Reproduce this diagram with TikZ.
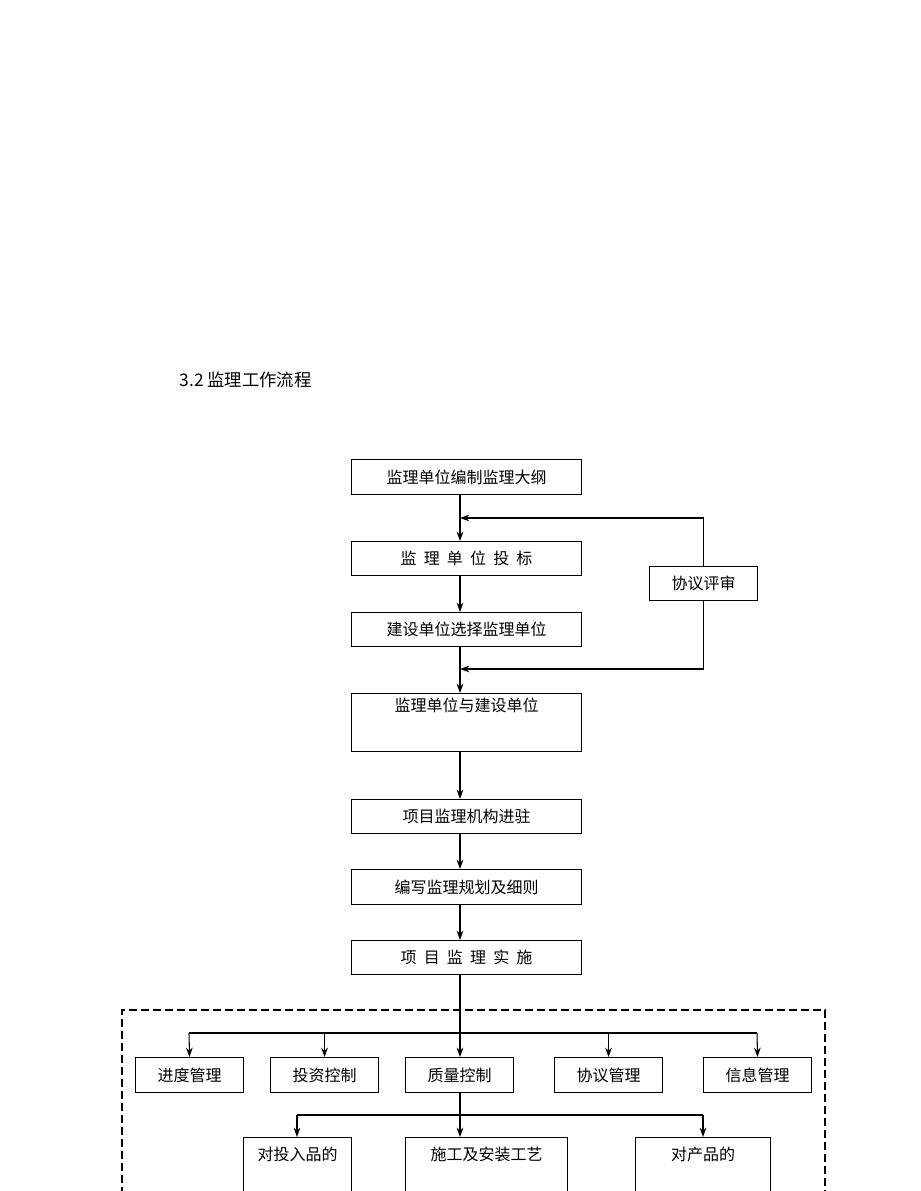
\documentclass[tikz,border=0pt]{standalone}
\usepackage{fontspec}
\setmainfont{Noto Sans CJK SC}
\usetikzlibrary{arrows.meta}
\begin{document}
\begin{tikzpicture}[x=0.75pt,y=-0.75pt,
 box/.style={draw,line width=0.8pt,anchor=north west,inner sep=0pt,font=\fontsize{12}{14}\selectfont},
 arr/.style={-{Stealth[length=7pt,width=5pt]},line width=0.8pt},
 ln/.style={line width=0.8pt}]
\useasboundingbox (0,0) rectangle (920,1191);
\node[anchor=west,font=\fontsize{13}{15}\selectfont] (title) at (175,380) {3.2 监理工作流程};
\node[box,minimum width=230*0.75pt,minimum height=35*0.75pt] (b1) at (351,459) {监理单位编制监理大纲};
\node[box,minimum width=230*0.75pt,minimum height=34*0.75pt] (b2) at (351,541) {监\ \ 理\ \ 单\ \ 位\ \ 投\ \ 标};
\node[box,minimum width=230*0.75pt,minimum height=34*0.75pt] (b3) at (351,612) {建设单位选择监理单位};
\node[box,minimum width=108*0.75pt,minimum height=34*0.75pt] (ps) at (649,566) {协议评审};
\node[box,minimum width=230*0.75pt,minimum height=58*0.75pt,text height=12pt,text depth=28pt] (b4) at (351,693) {监理单位与建设单位};
\node[box,minimum width=230*0.75pt,minimum height=34*0.75pt] (b5) at (351,799) {项目监理机构进驻};
\node[box,minimum width=230*0.75pt,minimum height=35*0.75pt] (b6) at (351,869) {编写监理规划及细则};
\node[box,minimum width=230*0.75pt,minimum height=34*0.75pt] (b7) at (351,940) {项\ \ 目\ \ 监\ \ 理\ \ 实\ \ 施};
\coordinate (j1) at (460,518);
\coordinate (j2) at (460,669);
\coordinate (mx) at (460,0);
\draw[arr] (b1.south-|mx) -- (b2.north-|mx);
\draw[arr] (b2.south-|mx) -- (b3.north-|mx);
\draw[arr] (b3.south-|mx) -- (b4.north-|mx);
\draw[arr] (ps.north) |- (j1);
\draw[arr] (ps.south) |- (j2);
\draw[arr] (b4.south-|mx) -- (b5.north-|mx);
\draw[arr] (b5.south-|mx) -- (b6.north-|mx);
\draw[arr] (b6.south-|mx) -- (b7.north-|mx);
\draw[ln,dash pattern=on 6pt off 3pt] (122,1195) -- (122,1010) -- (825,1010) -- (825,1195);
\node[box,minimum width=108*0.75pt,minimum height=35*0.75pt] (c1) at (135,1057) {进度管理};
\node[box,minimum width=108*0.75pt,minimum height=35*0.75pt] (c2) at (270,1057) {投资控制};
\node[box,minimum width=108*0.75pt,minimum height=35*0.75pt] (c3) at (405,1057) {质量控制};
\node[box,minimum width=108*0.75pt,minimum height=35*0.75pt] (c4) at (554,1057) {协议管理};
\node[box,minimum width=108*0.75pt,minimum height=35*0.75pt] (c5) at (703,1057) {信息管理};
\coordinate (h1) at (189,1033);
\coordinate (h5) at (757,1033);
\draw[ln] (b7.south-|mx) -- (460,1033);
\draw[ln] (h1) -- (h5);
\draw[arr] (h1) -- (c1.north);
\draw[arr] (c2.north|-h1) -- (c2.north);
\draw[arr] (460,1033) -- (c3.north-|mx);
\draw[arr] (c4.north|-h1) -- (c4.north);
\draw[arr] (h5) -- (c5.north);
\node[box,minimum width=108*0.75pt,minimum height=70*0.75pt,text height=12pt,text depth=30pt] (d1) at (243,1137) {对投入品的};
\node[box,minimum width=162*0.75pt,minimum height=70*0.75pt,text height=12pt,text depth=30pt] (d2) at (405,1137) {施工及安装工艺};
\node[box,minimum width=135*0.75pt,minimum height=70*0.75pt,text height=12pt,text depth=30pt] (d3) at (635,1137) {对产品的};
\coordinate (k1) at (297,1115);
\coordinate (k3) at (703,1115);
\draw[ln] (c3.south-|mx) -- (460,1115);
\draw[ln] (k1) -- (k3);
\draw[arr] (k1) -- (d1.north-|k1);
\draw[arr] (460,1115) -- (d2.north-|mx);
\draw[arr] (k3) -- (d3.north-|k3);
\end{tikzpicture}
\end{document}
